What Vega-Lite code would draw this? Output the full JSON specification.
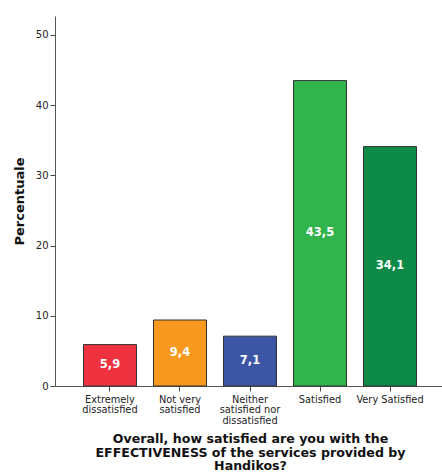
{
  "$schema": "https://vega.github.io/schema/vega-lite/v6.json",
  "autosize": "none",
  "width": 390,
  "height": 370,
  "padding": {"left": 55, "top": 16, "right": 0, "bottom": 88},
  "background": "white",
  "config": {"view": {"stroke": null}, "font": "DejaVu Sans"},
  "data": {"values": [
    {"cat": "Extremely|dissatisfied", "pct": 5.9, "lab": "5,9", "col": "#EE3240"},
    {"cat": "Not very|satisfied", "pct": 9.4, "lab": "9,4", "col": "#F7991E"},
    {"cat": "Neither|satisfied nor|dissatisfied", "pct": 7.1, "lab": "7,1", "col": "#3D55A5"},
    {"cat": "Satisfied", "pct": 43.5, "lab": "43,5", "col": "#31B44B"},
    {"cat": "Very Satisfied", "pct": 34.1, "lab": "34,1", "col": "#0D8A47"}
  ]},
  "encoding": {
    "x": {
      "field": "cat", "type": "nominal", "sort": null,
      "scale": {"paddingInner": 0.243, "paddingOuter": 0.407},
      "axis": {
        "labelExpr": "split(datum.label, '|')",
        "labelAngle": 0, "labelFontSize": 9.8, "labelLineHeight": 10.5, "labelColor": "#222",
        "labelPadding": 3, "tickSize": 5, "tickColor": "#444", "domainColor": "#555",
        "labelFont": "DejaVu Sans",
        "title": ["Overall, how satisfied are you with the", "EFFECTIVENESS of the services provided by", "Handikos?"],
        "titleFontSize": 12.6, "titleFontWeight": "bold", "titleColor": "#111", "titleLineHeight": 13.5,
        "titlePadding": 8, "titleFont": "DejaVu Sans"
      }
    }
  },
  "layer": [
    {
      "mark": {"type": "bar", "stroke": "#333", "strokeWidth": 1},
      "encoding": {
        "y": {
          "field": "pct", "type": "quantitative",
          "scale": {"domain": [0, 52.7], "nice": false, "zero": true},
          "axis": {
            "values": [0, 10, 20, 30, 40, 50], "grid": false, "tickSize": 5, "tickColor": "#444",
            "domainColor": "#555", "labelFontSize": 10, "labelColor": "#222", "labelPadding": 2,
            "title": "Percentuale", "titleFontSize": 13, "titleFontWeight": "bold", "titleColor": "#111",
            "titlePadding": 9
          }
        },
        "color": {"field": "col", "type": "nominal", "scale": null, "legend": null}
      }
    },
    {
      "mark": {"type": "text", "color": "white", "fontWeight": "bold", "fontSize": 11.5, "baseline": "middle"},
      "encoding": {
        "y": {
          "field": "pct", "type": "quantitative",
          "scale": {"domain": [0, 105.4], "nice": false, "zero": true},
          "axis": null
        },
        "text": {"field": "lab"}
      }
    }
  ],
  "resolve": {"scale": {"y": "independent"}}
}
